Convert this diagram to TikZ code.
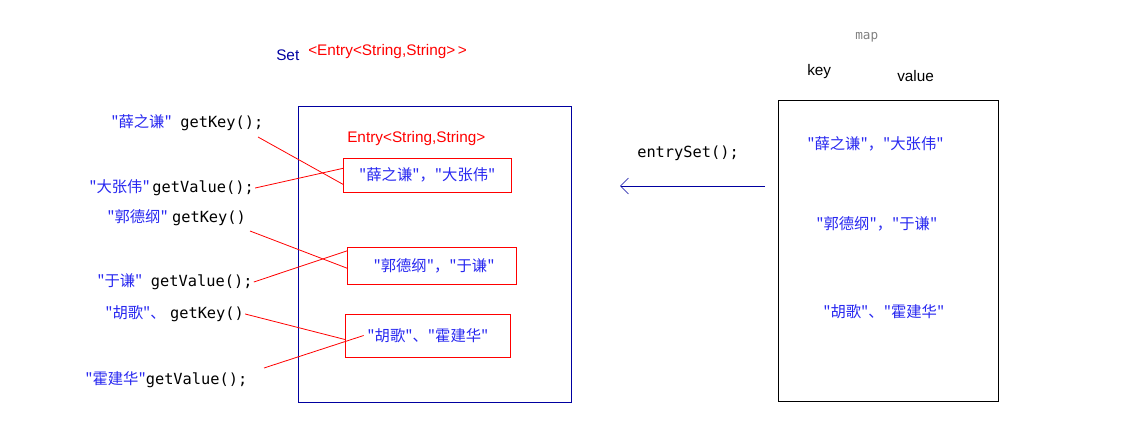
\documentclass[tikz,border=0pt]{standalone}
\usepackage{fontspec}
\setmainfont{Liberation Sans}
\setmonofont{DejaVu Sans Mono}
\newfontfamily\cjk{Noto Sans CJK SC}
\usetikzlibrary{arrows.meta}
\definecolor{nameblue}{RGB}{40,40,240}
\definecolor{boxblue}{RGB}{0,0,160}
\tikzset{
  txt/.style={anchor=west,inner sep=0.75pt,font=\fontsize{11.5}{13}\selectfont},
  link/.style={draw=red,line width=0.6pt},
}
\newcommand{\nm}[1]{\textcolor{nameblue}{\cjk #1}}
\newcommand{\cd}[1]{{\ttfamily #1}}

\begin{document}
\begin{tikzpicture}[x=0.75pt,y=0.75pt,yscale=-1,xscale=1]
\useasboundingbox (0,0) rectangle (1129,422);

%Set box
\draw [boxblue] (298,106) rectangle (571,402);
%Map box
\draw (778,100) rectangle (998,401);

% Headings
\node (set) [txt,text=boxblue] at (275,55) {Set};
\node (settype) [txt,text=red] at (307,52) {<Entry<String,String>\,>};
\node (entrytype) [txt,text=red] at (346,139) {Entry<String,String>};
\node (map) [txt,text=gray,font=\ttfamily\fontsize{9.5}{10}\selectfont] at (854,37) {map};
\node (key) [txt] at (806,72) {key};
\node (value) [txt] at (896,76) {value};
\node (eset) [txt] at (636,153) {\cd{entrySet();}};

% Entries in the set
\node (e1) [draw=red,txt,minimum width=126pt,minimum height=25.5pt] at (343,175) {\nm{"薛之谦"，"大张伟"}};
\node (e2) [draw=red,txt,minimum width=127pt,minimum height=28pt] at (347,265.5) {\ \nm{"郭德纲"，"于谦"}};
\node (e3) [draw=red,txt,minimum width=124pt,minimum height=32pt] at (345,335.5) {\nm{"胡歌"、"霍建华"}};

% Entries in the map
\node (m1) [txt] at (806,144) {\nm{"薛之谦"，"大张伟"}};
\node (m2) [txt] at (815,224) {\nm{"郭德纲"，"于谦"}};
\node (m3) [txt] at (822,312) {\nm{"胡歌"、"霍建华"}};

% Getter calls
\node (k1) [txt] at (110,123) {\nm{"薛之谦"}\ \ \cd{getKey();}};
\node (v1) [txt] at (88,188) {\nm{"大张伟"}\,\cd{getValue();}};
\node (k2) [txt] at (106,218) {\nm{"郭德纲"}\ \cd{getKey()}};
\node (v2) [txt] at (96,282) {\nm{"于谦"}\ \ \cd{getValue();}};
\node (k3) [txt] at (104,314) {\nm{"胡歌"、}\ \cd{getKey()}};
\node (v3) [txt] at (84,380) {\nm{"霍建华"}\cd{getValue();}};

% Links
\coordinate (a1) at (258,137);
\coordinate (a3) at (250,231);
\coordinate (a6) at (264,368);
\draw [link] (a1) -- ([yshift=7pt]e1.west);
\draw [link] (v1.east) -- ([yshift=-5pt]e1.west);
\draw [link] (a3) -- ([yshift=2pt]e2.west);
\draw [link] (v2.east) -- ([yshift=-11pt]e2.west);
\draw [link] (k3.east) -- ([yshift=3pt]e3.west);
\draw [link] (a6) -- ([xshift=14pt]e3.west);

% entrySet arrow
\coordinate (arrstart) at (765,186);
\coordinate (arrend) at (620,186);
\draw [boxblue,-{Straight Barb[length=6pt,width=12pt]}] (arrstart) -- (arrend);
\end{tikzpicture}
\end{document}
